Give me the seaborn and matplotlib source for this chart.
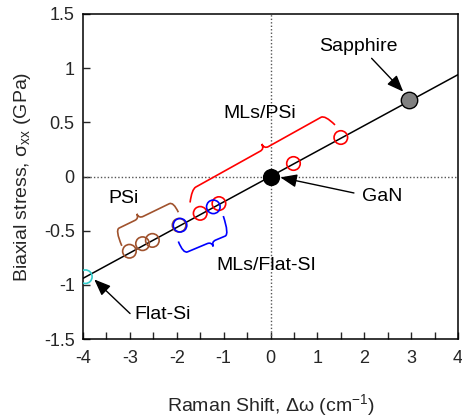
import numpy as np
import matplotlib
matplotlib.use("Agg")
import matplotlib.pyplot as plt
import seaborn as sns
from matplotlib.path import Path
from matplotlib.patches import PathPatch
from matplotlib.ticker import MultipleLocator, FuncFormatter

# ---------------- data ----------------
line_x = [-4.0, 4.0]
line_y = [-0.94, 0.94]

mls_psi_x = [-1.50, -1.10, 0.49, 1.50]
mls_psi_y = [-0.34, -0.25, 0.12, 0.36]

mls_flat_x = [-1.93, -1.22]
mls_flat_y = [-0.45, -0.28]

psi_x = [-3.01, -2.73, -2.52, -1.95]
psi_y = [-0.69, -0.62, -0.59, -0.45]

flat_si_x = [-3.95]
flat_si_y = [-0.925]

gan_x = [0.0]
gan_y = [0.0]

sapphire_x = [2.95]
sapphire_y = [0.705]

# brace key points: end, corner, tip, corner, end (data coords)
brace_red = [(-1.716, -0.240), (-1.679, -0.118), (-0.188, 0.300), (1.162, 0.567), (1.376, 0.476)]
brace_brown = [(-3.172, -0.640), (-3.316, -0.494), (-2.853, -0.345), (-2.072, -0.233), (-1.966, -0.330)]
brace_blue = [(-1.966, -0.600), (-1.860, -0.712), (-1.220, -0.645), (-0.879, -0.534), (-1.007, -0.365)]

# text labels
labels = ["Sapphire", "GaN", "Flat-Si", "MLs/PSi", "PSi", "MLs/Flat-SI"]
label_pos = [(1.87, 1.198), (2.38, -0.18), (-2.30, -1.27), (-0.22, 0.577), (-3.14, -0.199), (-0.10, -0.817)]
arrows = {"Sapphire": ((2.157, 1.091), (2.832, 0.783)),
          "GaN": ((1.78, -0.152), (0.21, -0.008)),
          "Flat-Si": ((-2.996, -1.265), (-3.76, -0.95))}

x_ticks = [-4, -3, -2, -1, 0, 1, 2, 3, 4]
y_ticks = [-1.5, -1, -0.5, 0, 0.5, 1, 1.5]

# ---------------- style ----------------
sns.set_style("ticks")
plt.rcParams['font.family'] = ['Liberation Sans', 'DejaVu Sans']
plt.rcParams['mathtext.default'] = 'regular'
plt.rcParams['axes.unicode_minus'] = False

fig = plt.figure(figsize=(4.62, 4.17), dpi=100)
ax = fig.add_axes([83 / 462, 1 - 339 / 417, 375 / 462, 325 / 417])
ax.set_xlim(-4, 4)
ax.set_ylim(-1.5, 1.5)

# reference dotted lines
ax.axhline(0, color='#555555', ls=(0, (1, 1.5)), lw=1.0, zorder=1)
ax.axvline(0, color='#555555', ls=(0, (1, 1.5)), lw=1.0, zorder=1)

sns.lineplot(x=line_x, y=line_y, ax=ax, color='black', lw=1.1, zorder=2)

ms = 95
lw_m = 1.2
sns.scatterplot(x=psi_x, y=psi_y, ax=ax, s=ms, color='#a0522d', facecolor='none',
                edgecolor='#a0522d', linewidth=lw_m, zorder=3)
sns.scatterplot(x=mls_psi_x, y=mls_psi_y, ax=ax, s=ms, color='#ff0000', facecolor='none',
                edgecolor='#ff0000', linewidth=lw_m, zorder=3)
sns.scatterplot(x=mls_flat_x, y=mls_flat_y, ax=ax, s=ms, color='#0000ff', facecolor='none',
                edgecolor='#0000ff', linewidth=lw_m, zorder=4)
sns.scatterplot(x=flat_si_x, y=flat_si_y, ax=ax, s=ms, color='#33cccc', facecolor='none',
                edgecolor='#33cccc', linewidth=lw_m, zorder=3)
sns.scatterplot(x=gan_x, y=gan_y, ax=ax, s=130, color='black', edgecolor='black',
                linewidth=1, zorder=5)
sns.scatterplot(x=sapphire_x, y=sapphire_y, ax=ax, s=140, color='#808080', edgecolor='black',
                linewidth=1, zorder=5)


def draw_brace(pts, color, r=4.5):
    T = ax.transData
    A, B, Tp, D, E = T.transform(np.array(pts))
    u = (D - B) / np.linalg.norm(D - B)
    M = B + np.dot(Tp - B, u) * u
    verts = [A, B, B + r * u, M - r * u, M, Tp, M, M + r * u, D - r * u, D, E]
    codes = [Path.MOVETO, Path.CURVE3, Path.CURVE3, Path.LINETO, Path.CURVE3, Path.CURVE3,
             Path.CURVE3, Path.CURVE3, Path.LINETO, Path.CURVE3, Path.CURVE3]
    vd = T.inverted().transform(np.array(verts))
    ax.add_patch(PathPatch(Path(vd, codes), fill=False, ec=color, lw=1.2, zorder=3))


draw_brace(brace_red, '#ff0000')
draw_brace(brace_brown, '#a0522d')
draw_brace(brace_blue, '#0000ff')

for lab, (tx, ty) in zip(labels, label_pos):
    ax.text(tx, ty, lab, fontsize=14, ha='center', va='center', color='black')

for lab, (tail, head) in arrows.items():
    ax.annotate("", xy=head, xytext=tail,
                arrowprops=dict(arrowstyle='-|>,head_length=1.0,head_width=0.4',
                                color='black', lw=1.0, shrinkA=0, shrinkB=0))

# axes styling
ax.xaxis.set_minor_locator(MultipleLocator(0.5))
ax.set_xticks(x_ticks)
ax.set_yticks(y_ticks)
fmt = FuncFormatter(lambda v, p: '{:g}'.format(v))
ax.xaxis.set_major_formatter(fmt)
ax.yaxis.set_major_formatter(fmt)
ax.tick_params(axis='both', which='both', direction='in', length=5, width=1, labelsize=13,
               top=False, right=False)
ax.tick_params(axis='x', which='both', pad=8)
ax.tick_params(axis='y', which='both', pad=6)
for s in ax.spines.values():
    s.set_visible(True)
    s.set_linewidth(1.1)
    s.set_color('black')

ax.set_xlabel('Raman Shift, Δω (cm$^{-1}$)', fontsize=14)
ax.set_ylabel(r'Biaxial stress, $\sigma_{xx}$ (GPa)', fontsize=14)
ax.xaxis.set_label_coords(0.5, -0.162)
ax.yaxis.set_label_coords(-0.132, 0.5)

fig.savefig('out.png', dpi=100)
